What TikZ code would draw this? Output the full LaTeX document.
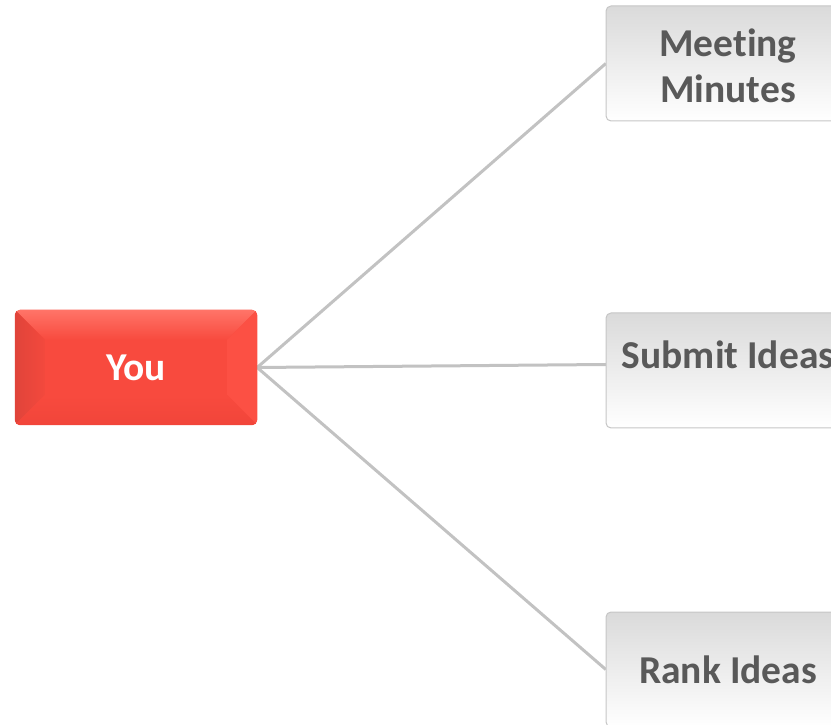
\documentclass[tikz,border=0pt]{standalone}
\usepackage{fontspec}
\setmainfont[Ligatures=CommonOff]{Carlito}
\usetikzlibrary{calc}
\definecolor{youface}{HTML}{F84A3E}
\definecolor{youtop}{HTML}{FF7468}
\definecolor{youleft}{HTML}{E0443A}
\definecolor{youright}{HTML}{FC5044}
\definecolor{youbottom}{HTML}{F1453A}
\definecolor{linkgray}{HTML}{C2C2C2}
\definecolor{boxborder}{HTML}{C6C6C6}
\definecolor{boxtop}{HTML}{DADADA}
\definecolor{boxmid}{HTML}{F8F8F8}
\definecolor{labelgray}{HTML}{595959}
\begin{document}
\begin{tikzpicture}[x=1pt,y=1pt,
  link/.style={draw=linkgray,line width=3pt},
  graybox/.style={draw=boxborder,line width=1pt,rounded corners=5pt,
    top color=boxtop,middle color=boxmid,bottom color=white,
    minimum width=244pt,minimum height=115pt,inner sep=0pt},
  label/.style={text=labelgray,font=\bfseries\fontsize{39.5}{46}\selectfont,align=center,inner sep=0pt},
  youbox/.style={fill=youface,rounded corners=5pt,minimum width=242pt,minimum height=115pt,inner sep=0pt}]
\useasboundingbox (0,0) rectangle (831,724);
\clip (0,0) rectangle (831,724);
% boxes positions
\node[youbox] (you) at (136,356.5) {};
\path (728,660.5) node[minimum width=244pt,minimum height=115pt,inner sep=0pt] (meeting) {}
      (728,353.5) node[minimum width=244pt,minimum height=115pt,inner sep=0pt] (submit) {}
      (728,54.5) node[minimum width=244pt,minimum height=115pt,inner sep=0pt] (rank) {};
\coordinate (submitin) at ($(submit.west)+(0,6)$);
% connectors
\draw[link] (you.east) -- (meeting.west);
\draw[link] (you.east) -- (submitin);
\draw[link] (you.east) -- (rank.west);
% gray boxes
\node[graybox] at (meeting) {};
\node[graybox] at (submit) {};
\node[graybox] at (rank) {};
% you box with bevel
\node[youbox] at (you) {};
\begin{scope}
\clip[rounded corners=5pt] (you.south west) rectangle (you.north east);
\def\b{30}
\shade[top color=youtop,bottom color=youface]
  (you.north west) -- (you.north east) -- ($(you.north east)+(-\b,-\b)$) -- ($(you.north west)+(\b,-\b)$) -- cycle;
\shade[left color=youleft,right color=youface!80!youleft]
  (you.north west) -- ($(you.north west)+(\b,-\b)$) -- ($(you.south west)+(\b,\b)$) -- (you.south west) -- cycle;
\fill[youright]
  (you.north east) -- ($(you.north east)+(-\b,-\b)$) -- ($(you.south east)+(-\b,\b)$) -- (you.south east) -- cycle;
\shade[top color=youface,bottom color=youbottom]
  (you.south west) -- ($(you.south west)+(\b,\b)$) -- ($(you.south east)+(-\b,\b)$) -- (you.south east) -- cycle;
\end{scope}
% labels
\node[label,text=white] (youtext) at (you) {You};
\node[label] (meetingtext) at (728,658) {Meeting\\Minutes};
\node[label] (submittext) at (728,369) {Submit Ideas};
\node[label] (ranktext) at (rank) {Rank Ideas};
\end{tikzpicture}
\end{document}
